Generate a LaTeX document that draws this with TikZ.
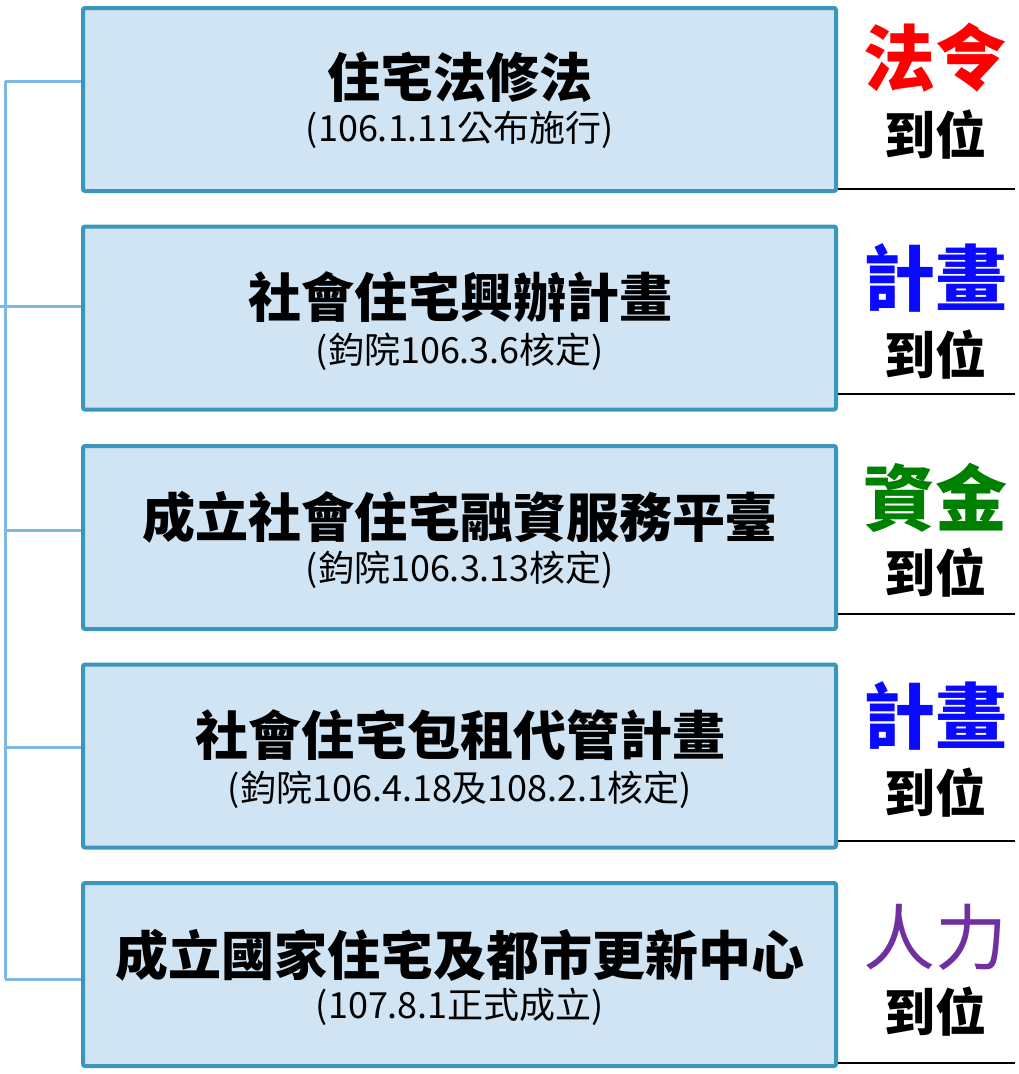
\documentclass[tikz,border=0pt]{standalone}
\usepackage{fontspec}
\setmainfont{Noto Sans CJK TC}
\usetikzlibrary{calc}
\definecolor{boxfill}{HTML}{D0E4F3}
\definecolor{boxline}{HTML}{3A96BC}
\definecolor{brk}{HTML}{7DB9E6}
\definecolor{lred}{HTML}{FF0000}
\definecolor{lblue}{HTML}{0A0AFF}
\definecolor{lgreen}{HTML}{008000}
\definecolor{lpurple}{HTML}{7030A0}
\tikzset{
  stepbox/.style={draw=boxline, fill=boxfill, line width=4pt, rounded corners=2pt,
    minimum width=753pt, minimum height=183pt, inner sep=0pt},
  ttl/.style={font=\fontsize{53}{58}\selectfont\bfseries, inner sep=0pt},
  sub/.style={font=\fontsize{36}{40}\selectfont, inner sep=0pt},
  big/.style={font=\fontsize{72}{78}\selectfont\bfseries, inner sep=0pt},
  small/.style={font=\fontsize{51}{56}\selectfont\bfseries, inner sep=0pt},
  brline/.style={draw=brk, line width=3pt},
  uline/.style={draw=black, line width=2.5pt},
}
\begin{document}
\begin{tikzpicture}[x=1pt,y=-1pt]
\useasboundingbox (0,0) rectangle (1019,1074);
% boxes
\node[stepbox] (b1) at (459.5,99.5) {};
\node[stepbox] (b2) at (459.5,318) {};
\node[stepbox] (b3) at (459.5,537.5) {};
\node[stepbox] (b4) at (459.5,756) {};
\node[stepbox] (b5) at (459.5,974.5) {};
% titles
\node[ttl] (t1) at (460,77) {住宅法修法};
\node[sub] (s1) at (460,130) {(106.1.11公布施行)};
\node[ttl] (t2) at (460,297) {社會住宅興辦計畫};
\node[sub] (s2) at (460,352) {(鈞院106.3.6核定)};
\node[ttl] (t3) at (460,517) {成立社會住宅融資服務平臺};
\node[sub] (s3) at (460,570) {(鈞院106.3.13核定)};
\node[ttl] (t4) at (460,735) {社會住宅包租代管計畫};
\node[sub] (s4) at (460,790) {(鈞院106.4.18及108.2.1核定)};
\node[ttl] (t5) at (460,955) {成立國家住宅及都市更新中心};
\node[sub] (s5) at (460,1007) {(107.8.1正式成立)};
% right labels
\node[big, text=lred] (r1) at (935,58) {法令};
\node[small] (p1) at (935,135) {到位};
\node[big, text=lblue] (r2) at (935,278) {計畫};
\node[small] (p2) at (935,355) {到位};
\node[big, text=lgreen] (r3) at (935,498) {資金};
\node[small] (p3) at (935,573) {到位};
\node[big, text=lblue] (r4) at (935,716) {計畫};
\node[small] (p4) at (935,793) {到位};
\node[big, text=lpurple, font=\fontsize{72}{78}\selectfont] (r5) at (935,937) {人力};
\node[small] (p5) at (935,1012) {到位};
% underlines
\coordinate (u1) at (1015,189);
\coordinate (u2) at (1015,394);
\coordinate (u3) at (1015,614);
\coordinate (u4) at (1015,841);
\coordinate (u5) at (1015,1063);
\draw[uline] (u1 -| b1.east) -- (u1);
\draw[uline] (u2 -| b2.east) -- (u2);
\draw[uline] (u3 -| b3.east) -- (u3);
\draw[uline] (u4 -| b4.east) -- (u4);
\draw[uline] (u5 -| b5.east) -- (u5);
% bracket
\coordinate (k1) at (5,81);
\coordinate (k2) at (5,306);
\coordinate (k3) at (5,530);
\coordinate (k4) at (5,747);
\coordinate (k5) at (5,979);
\coordinate (k0) at (0,306);
\draw[brline] (k1) -- (k5);
\draw[brline] (k1) -- (k1 -| b1.west);
\draw[brline] (k0) -- (k2 -| b2.west);
\draw[brline] (k3) -- (k3 -| b3.west);
\draw[brline] (k4) -- (k4 -| b4.west);
\draw[brline] (k5) -- (k5 -| b5.west);
\end{tikzpicture}
\end{document}
